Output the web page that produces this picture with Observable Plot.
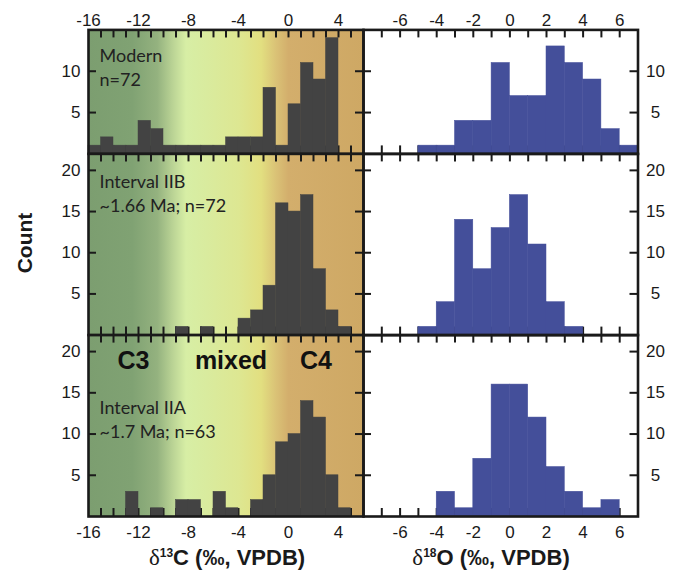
<!DOCTYPE html>
<html><head><meta charset="utf-8">
<script src="https://cdn.jsdelivr.net/npm/d3@7"></script>
<script src="https://cdn.jsdelivr.net/npm/@observablehq/plot@0.6"></script>
<style>
body{margin:0;background:#fff;}
#wrap{position:relative;width:681px;height:572px;overflow:hidden;background:#fff;font-family:"Liberation Sans",Arial,sans-serif;color:#1a1a1a;}
#wrap > svg{position:absolute;left:0;top:0;}
.title{position:absolute;font-weight:bold;font-size:22px;line-height:22px;white-space:nowrap;transform:translateX(-50%);}
.title .d{font-family:"Liberation Serif","DejaVu Serif",serif;font-weight:normal;font-size:23px;}
.title .s{font-size:12px;position:relative;top:-8px;}
#count{position:absolute;left:25px;top:243px;font-weight:bold;font-size:21px;white-space:nowrap;transform:translate(-50%,-50%) rotate(-90deg);}
</style></head>
<body><div id="wrap">
<svg width="0" height="0" style="position:absolute"><defs><linearGradient id="c13grad" x1="0" x2="1" y1="0" y2="0"></linearGradient></defs></svg>
<div id="count">Count</div>
<div class="title" style="left:227px;top:547px"><span class="d">δ</span><span class="s">13</span>C (‰, VPDB)</div>
<div class="title" style="left:491px;top:547px"><span class="d">δ</span><span class="s">18</span>O (‰, VPDB)</div>
</div>
<script>
// ---- data ----
const c13Edges = [-16,-15,-14,-13,-12,-11,-10,-9,-8,-7,-6,-5,-4,-3,-2,-1,0,1,2,3,4,5,6];
const o18Edges = [-8,-7,-6,-5,-4,-3,-2,-1,0,1,2,3,4,5,6,7];

const c13Modern = [1,2,1,1,4,3,1,1,1,1,1,2,2,2,8,1,6,11,9,14,0,0];
const c13IIB    = [0,0,0,0,0,0,0,1,0,1,0,0,2,3,6,16,15,17,8,3,1,0];
const c13IIA    = [0,0,0,3,0,1,0,2,2,0,3,1,0,2,5,9,10,14,12,5,1,0];

const o18Modern = [0,0,0,1,1,4,4,11,7,7,13,11,9,3,1];
const o18IIB    = [0,0,0,1,4,14,8,13,17,11,4,1,0,0,0];
const o18IIA    = [0,0,0,0,3,1,7,16,16,12,6,3,1,2,0];

const c13Ticks = [-15,-14,-13,-12,-11,-10,-9,-8,-7,-6,-5,-4,-3,-2,-1,0,1,2,3,4,5];
const o18Ticks = [-7,-6,-5,-4,-3,-2,-1,0,1,2,3,4,5,6];
const c13Labels = [-16,-12,-8,-4,0,4];
const o18Labels = [-6,-4,-2,0,2,4,6];
const countTicksTop = [5,10];
const countTicks = [5,10,15,20];

const notes = ["Modern\nn=72", "Interval IIB\n~1.66 Ma; n=72", "Interval IIA\n~1.7 Ma; n=63"];
const zoneLabels = ["C3","mixed","C4"];
const zoneX = [-12.4,-4.6,2.2];
const zoneY = 18.9;

// background gradient for the δ13C panels (value -> colour)
const gradV = [-16,-12.5,-10.5,-9.2,-8.2,-6.5,-4,-2.2,-1,0,6];
const gradC = ["#7c9e70","#80a273","#94b27f","#bcd596","#d7eea5","#d9eb9e","#dde792","#e2df80","#dac276","#d3ae6c","#cea864"];

// ---- gradient defs ----
const grad = document.getElementById("c13grad");
gradV.forEach((v,i)=>{
  const s = document.createElementNS("http://www.w3.org/2000/svg","stop");
  s.setAttribute("offset", ((v - c13Edges[0])/(c13Edges[c13Edges.length-1]-c13Edges[0])).toFixed(4));
  s.setAttribute("stop-color", gradC[i]);
  grad.appendChild(s);
});

// ---- layout ----
const W = 681, H = 572;
const colL = {l:88, r:363}, colR = {l:363, r:637.5};
const rows = [{t:29.4,b:153.4},{t:153.4,b:334.6},{t:334.6,b:516}];
const tickFont = "Liberation Sans, Arial, sans-serif";
const ink = "#1a1a1a";

function panel(o){
  const fw = o.col.r - o.col.l, fh = o.row.b - o.row.t;
  const data = o.edges.slice(0,-1).map((lo,i)=>({lo, hi:o.edges[i+1], n:o.counts[i]})).filter(d=>d.n>0);
  const tk = {stroke:ink, strokeWidth:2};
  const marks = [];
  if (o.gradient) marks.push(Plot.frame({fill:"url(#c13grad)"}));
  marks.push(
    Plot.tickX(o.xTicks, {x:d=>d, insetBottom:fh-8, ...tk}),
    Plot.tickX(o.xTicks, {x:d=>d, insetTop:fh-8, ...tk}),
    Plot.tickY(o.yTicks, {y:d=>d, insetRight:fw-8, ...tk}),
    Plot.tickY(o.yTicks, {y:d=>d, insetLeft:fw-8, ...tk}),
    Plot.rectY(data, {x1:"lo", x2:"hi", y:"n", fill:o.fill, stroke:o.fill, strokeWidth:0.5, inset:0})
  );
  const tf = {fontSize:17, fontFamily:tickFont, fill:ink};
  if (o.topLabels) marks.push(Plot.text(o.xLabels, {x:d=>d, text:d=>String(d), frameAnchor:"top", dy:-3.5, lineAnchor:"bottom", ...tf}));
  if (o.bottomLabels) marks.push(Plot.text(o.xLabels, {x:d=>d, text:d=>String(d), frameAnchor:"bottom", dy:9, lineAnchor:"top", ...tf}));
  if (o.ySide === "left") marks.push(Plot.text(o.yTicks, {y:d=>d, text:d=>String(d), frameAnchor:"left", dx:-8, textAnchor:"end", lineAnchor:"middle", ...tf}));
  if (o.ySide === "right") marks.push(Plot.text(o.yTicks, {y:d=>d, text:d=>String(d), frameAnchor:"right", dx:17.5, textAnchor:"middle", lineAnchor:"middle", ...tf}));
  if (o.note) marks.push(Plot.text([o.note], {text:d=>d, frameAnchor:"top-left", dx:11, dy:o.noteDy, textAnchor:"start", lineAnchor:"top", fontSize:18, fontFamily:"Lato, sans-serif", lineHeight:1.33, fill:"#222"}));
  if (o.zones) marks.push(Plot.text(zoneLabels, {x:(d,i)=>zoneX[i], y:()=>zoneY, text:d=>d, fontWeight:"bold", fontSize:25, fontFamily:tickFont, lineAnchor:"middle", fill:"#111"}));
  marks.push(Plot.frame({stroke:ink, strokeWidth:2.6}));
  return Plot.plot({
    width:W, height:H,
    marginLeft:o.col.l, marginRight:W-o.col.r, marginTop:o.row.t, marginBottom:H-o.row.b,
    x:{domain:[o.edges[0], o.edges[o.edges.length-1]], axis:null},
    y:{domain:o.yDomain, axis:null},
    style:{background:"transparent", overflow:"visible"},
    marks
  });
}

const wrap = document.getElementById("wrap");
const specs = [
  {col:colL,row:rows[0],edges:c13Edges,counts:c13Modern,fill:"#434343",gradient:true,xTicks:c13Ticks,xLabels:c13Labels,yTicks:countTicksTop,yDomain:[0,15],topLabels:true,ySide:"left",note:notes[0],noteDy:15.5},
  {col:colL,row:rows[1],edges:c13Edges,counts:c13IIB,fill:"#434343",gradient:true,xTicks:c13Ticks,xLabels:c13Labels,yTicks:countTicks,yDomain:[0,22],ySide:"left",note:notes[1],noteDy:17},
  {col:colL,row:rows[2],edges:c13Edges,counts:c13IIA,fill:"#434343",gradient:true,xTicks:c13Ticks,xLabels:c13Labels,yTicks:countTicks,yDomain:[0,22],bottomLabels:true,ySide:"left",note:notes[2],noteDy:61.5,zones:true},
  {col:colR,row:rows[0],edges:o18Edges,counts:o18Modern,fill:"#444f9a",xTicks:o18Ticks,xLabels:o18Labels,yTicks:countTicksTop,yDomain:[0,15],topLabels:true,ySide:"right"},
  {col:colR,row:rows[1],edges:o18Edges,counts:o18IIB,fill:"#444f9a",xTicks:o18Ticks,xLabels:o18Labels,yTicks:countTicks,yDomain:[0,22],ySide:"right"},
  {col:colR,row:rows[2],edges:o18Edges,counts:o18IIA,fill:"#444f9a",xTicks:o18Ticks,xLabels:o18Labels,yTicks:countTicks,yDomain:[0,22],bottomLabels:true,ySide:"right"}
];
specs.forEach(s => wrap.appendChild(panel(s)));
</script>
</body></html>
